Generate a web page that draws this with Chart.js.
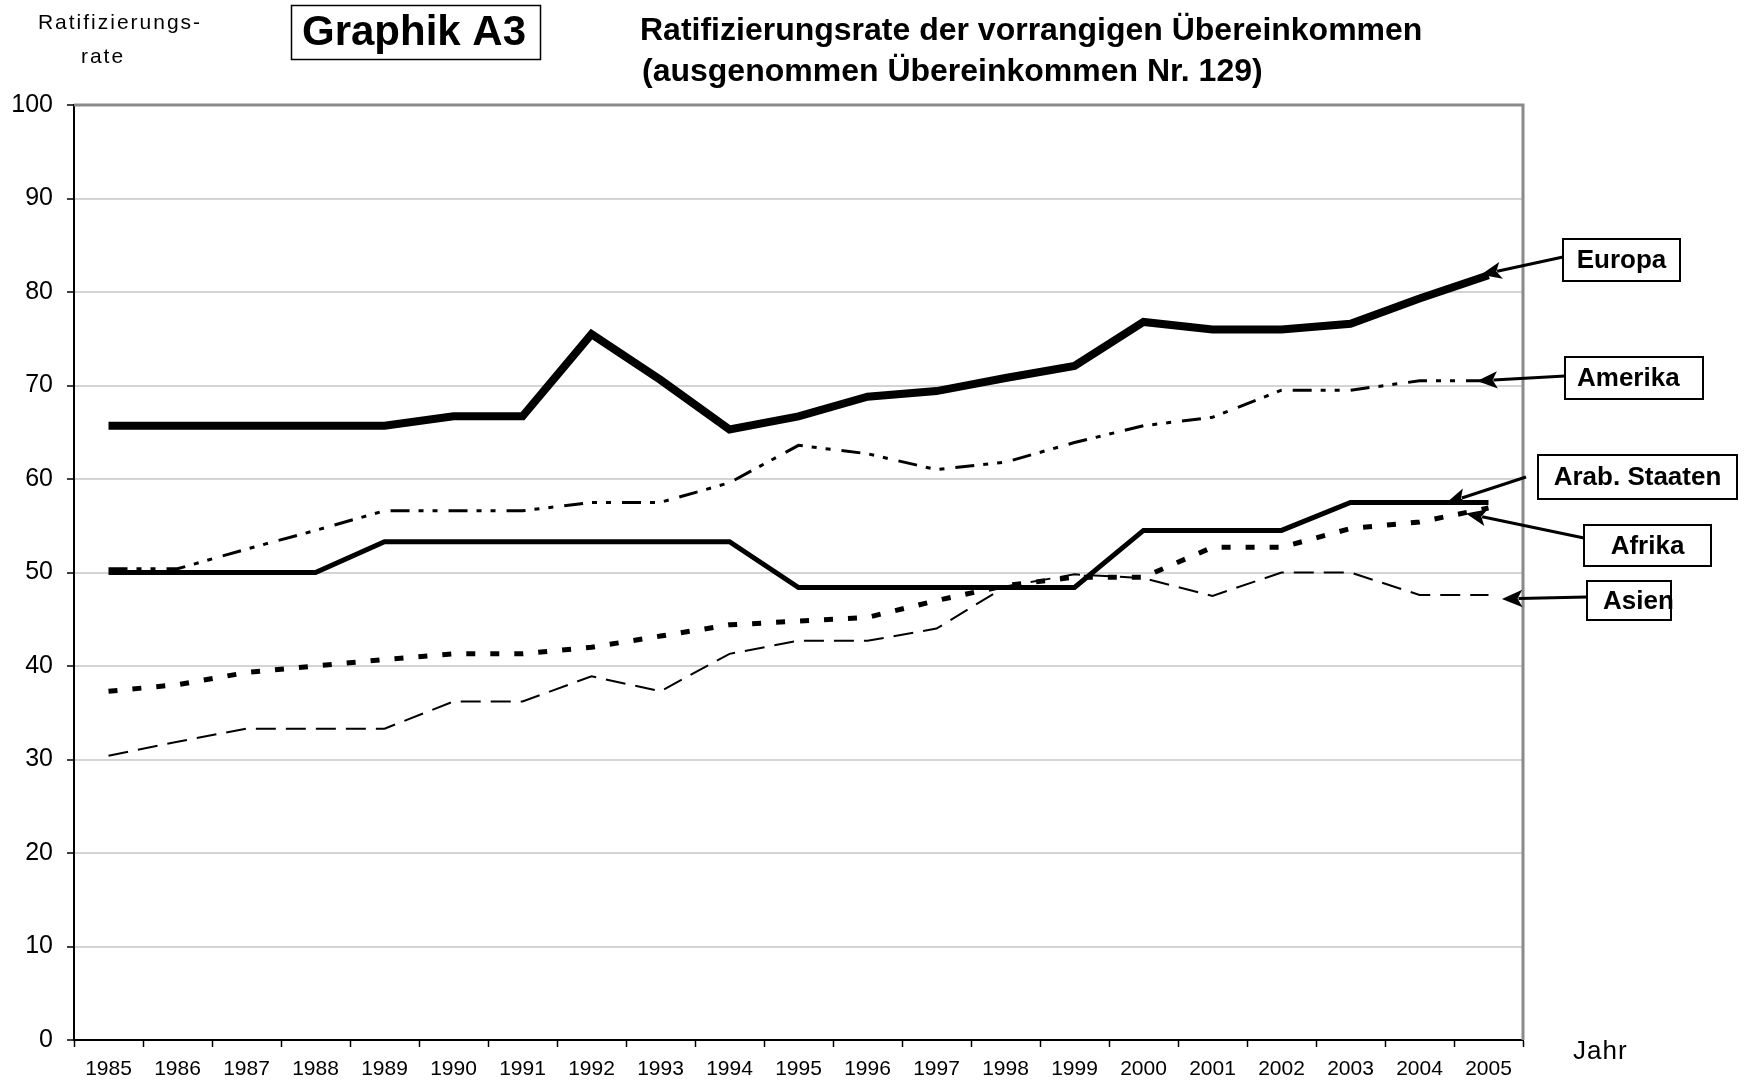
<!DOCTYPE html>
<html>
<head>
<meta charset="utf-8">
<script src="https://cdn.jsdelivr.net/npm/chart.js@4.4.0/dist/chart.umd.min.js"></script>
<style>
  html, body { margin: 0; padding: 0; background: #fff; }
  canvas { display: block; }
</style>
</head>
<body>
<canvas id="chart" width="1749" height="1085"></canvas>
<script>
// Jahre (Kategorien)
const years = ['1985', '1986', '1987', '1988', '1989', '1990', '1991', '1992', '1993', '1994', '1995',
  '1996', '1997', '1998', '1999', '2000', '2001', '2002', '2003', '2004', '2005'];

// Ratifizierungsrate je Region
const europa = [65.7, 65.7, 65.7, 65.7, 65.7, 66.7, 66.7, 75.5, 70.6, 65.3, 66.7, 68.8, 69.4, 70.8, 72.1, 76.8, 76.0, 76.0, 76.6, 79.3, 81.8];
const amerika = [50.4, 50.4, 52.5, 54.5, 56.6, 56.6, 56.6, 57.5, 57.5, 59.6, 63.6, 62.7, 61.0, 61.8, 63.9, 65.7, 66.6, 69.5, 69.5, 70.5, 70.5];
const arab = [50.0, 50.0, 50.0, 50.0, 53.3, 53.3, 53.3, 53.3, 53.3, 53.3, 48.4, 48.4, 48.4, 48.4, 48.4, 54.5, 54.5, 54.5, 57.5, 57.5, 57.5];
const afrika = [37.3, 38.0, 39.3, 40.0, 40.7, 41.3, 41.3, 42.0, 43.2, 44.4, 44.8, 45.2, 47.0, 48.6, 49.5, 49.5, 52.7, 52.7, 54.7, 55.4, 56.9];
const asien = [30.4, 31.9, 33.3, 33.3, 33.3, 36.2, 36.2, 38.9, 37.3, 41.3, 42.7, 42.7, 44.0, 48.5, 49.8, 49.4, 47.5, 50.0, 50.0, 47.6, 47.6];

const yMin = 0, yMax = 100, yStep = 10;

const FONT = '"Liberation Sans", Arial, Helvetica, sans-serif';

// Beschriftungskästen mit Pfeilen (Pfeilspitze relativ zum letzten Datenpunkt)
const callouts = [
  { text: 'Europa', ds: 0, box: [1563, 239, 117, 42], from: [1563, 257], dx: -5, dy: -1 },
  { text: 'Amerika', ds: 1, box: [1565, 357, 138, 42], from: [1565, 376], dx: -9, dy: 0, left: 12 },
  { text: 'Arab. Staaten', ds: 2, box: [1538, 455, 199, 44], from: [1526, 477], dx: -40, dy: 0 },
  { text: 'Afrika', ds: 3, box: [1584, 525, 127, 41], from: [1584, 538], dx: -20, dy: 6 },
  { text: 'Asien', ds: 4, box: [1587, 581, 84, 39], from: [1587, 597], dx: 16, dy: 4, left: 16 }
];

function arrow(ctx, x1, y1, x2, y2) {
  const ang = Math.atan2(y2 - y1, x2 - x1);
  const L = 17, W = 0.4;
  const bx = x2 - (L - 3) * Math.cos(ang), by = y2 - (L - 3) * Math.sin(ang);
  ctx.beginPath();
  ctx.moveTo(x1, y1);
  ctx.lineTo(bx, by);
  ctx.lineWidth = 3;
  ctx.stroke();
  ctx.beginPath();
  ctx.moveTo(x2, y2);
  ctx.lineTo(x2 - L * Math.cos(ang - W), y2 - L * Math.sin(ang - W));
  ctx.lineTo(x2 - (L - 5) * Math.cos(ang), y2 - (L - 5) * Math.sin(ang));
  ctx.lineTo(x2 - L * Math.cos(ang + W), y2 - L * Math.sin(ang + W));
  ctx.closePath();
  ctx.fillStyle = '#000';
  ctx.fill();
  ctx.lineWidth = 2;
  ctx.stroke();
}

const overlay = {
  id: 'overlay',
  beforeDraw(chart) {
    const ctx = chart.ctx;
    ctx.save();
    ctx.fillStyle = '#fff';
    ctx.fillRect(0, 0, chart.width, chart.height);
    ctx.restore();
  },
  afterDraw(chart) {
    const ctx = chart.ctx;
    const a = chart.chartArea;
    ctx.save();

    // grauer Rahmen oben und rechts
    ctx.strokeStyle = '#8a8a8a';
    ctx.lineWidth = 3;
    ctx.beginPath();
    ctx.moveTo(a.left, a.top);
    ctx.lineTo(a.right, a.top);
    ctx.lineTo(a.right, a.bottom);
    ctx.stroke();

    ctx.fillStyle = '#000';
    ctx.strokeStyle = '#000';

    // Achsentitel
    ctx.font = '21px ' + FONT;
    ctx.textAlign = 'center';
    ctx.textBaseline = 'middle';
    ctx.letterSpacing = '2px';
    ctx.fillText('Ratifizierungs-', 120, 23);
    ctx.fillText('rate', 103, 57);
    ctx.letterSpacing = '1px';

    ctx.font = '26px ' + FONT;
    ctx.textAlign = 'left';
    ctx.fillText('Jahr', 1573, 1052);
    ctx.letterSpacing = '0px';

    // Graphik A3
    ctx.lineWidth = 1.5;
    ctx.strokeRect(291.5, 5.5, 249, 54);
    ctx.font = 'bold 42px ' + FONT;
    ctx.textAlign = 'center';
    ctx.fillText('Graphik A3', 414, 33);

    // Titel
    ctx.font = 'bold 32px ' + FONT;
    ctx.textAlign = 'left';
    ctx.fillText('Ratifizierungsrate der vorrangigen Übereinkommen', 640, 31);
    ctx.fillText('(ausgenommen Übereinkommen Nr. 129)', 642, 72);

    // Beschriftungen mit Pfeilen
    const xs = chart.scales.x, ys = chart.scales.y;
    const last = years.length - 1;
    callouts.forEach(c => {
      const v = chart.data.datasets[c.ds].data[last];
      const tx = xs.getPixelForValue(last) + c.dx;
      const ty = ys.getPixelForValue(v) + c.dy;
      ctx.strokeStyle = '#000';
      arrow(ctx, c.from[0], c.from[1], tx, ty);
      const [bx, by, bw, bh] = c.box;
      ctx.fillStyle = '#fff';
      ctx.fillRect(bx, by, bw, bh);
      ctx.lineWidth = 2;
      ctx.strokeRect(bx, by, bw, bh);
      ctx.fillStyle = '#000';
      ctx.font = 'bold 26px ' + FONT;
      ctx.textBaseline = 'middle';
      if (c.left) {
        ctx.textAlign = 'left';
        ctx.fillText(c.text, bx + c.left, by + bh / 2 + 1);
      } else {
        ctx.textAlign = 'center';
        ctx.fillText(c.text, bx + bw / 2, by + bh / 2 + 1);
      }
    });

    ctx.restore();
  }
};

const common = { fill: false, tension: 0, pointRadius: 0, pointHoverRadius: 0, borderColor: '#000', borderCapStyle: 'butt', borderJoinStyle: 'miter' };

new Chart(document.getElementById('chart'), {
  type: 'line',
  data: {
    labels: years,
    datasets: [
      { ...common, label: 'Europa', data: europa, borderWidth: 8 },
      { ...common, label: 'Amerika', data: amerika, borderWidth: 3, borderDash: [19, 9, 5, 9, 5, 11] },
      { ...common, label: 'Arab. Staaten', data: arab, borderWidth: 5 },
      { ...common, label: 'Afrika', data: afrika, borderWidth: 5, borderDash: [9, 15] },
      { ...common, label: 'Asien', data: asien, borderWidth: 2, borderDash: [20, 10] }
    ]
  },
  options: {
    responsive: false,
    devicePixelRatio: 1,
    animation: false,
    layout: { padding: { left: 0, top: 105, right: 226, bottom: 0 } },
    plugins: { legend: { display: false }, title: { display: false }, tooltip: { enabled: false } },
    scales: {
      x: {
        offset: true,
        grid: { offset: true, drawOnChartArea: false, drawTicks: true, tickLength: 7, tickColor: '#000', tickWidth: 1.5 },
        border: { display: true, color: '#000', width: 2 },
        ticks: { color: '#000', font: { family: FONT, size: 21 }, padding: 10, maxRotation: 0, autoSkip: false },
        afterFit(scale) { scale.height = 45; }
      },
      y: {
        min: yMin, max: yMax,
        grid: { color: '#d4d4d4', lineWidth: 2, drawTicks: true, tickLength: 7, tickColor: '#000', tickWidth: 1.5 },
        border: { display: true, color: '#000', width: 2 },
        ticks: { stepSize: yStep, color: '#000', font: { family: FONT, size: 25 }, padding: 14 },
        afterFit(scale) { scale.width = 74; }
      }
    }
  },
  plugins: [overlay]
});
</script>
</body>
</html>
